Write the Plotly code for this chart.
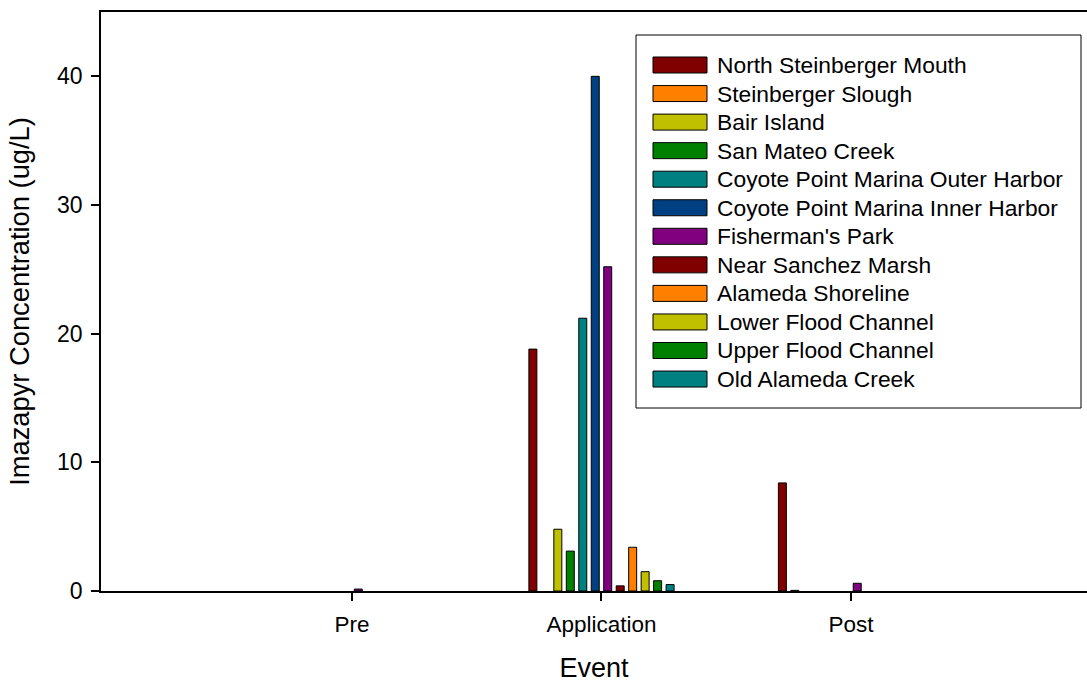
import plotly.graph_objects as go

events = ["Pre", "Application", "Post"]

sites = [
    "North Steinberger Mouth",
    "Steinberger Slough",
    "Bair Island",
    "San Mateo Creek",
    "Coyote Point Marina Outer Harbor",
    "Coyote Point Marina Inner Harbor",
    "Fisherman's Park",
    "Near Sanchez Marsh",
    "Alameda Shoreline",
    "Lower Flood Channel",
    "Upper Flood Channel",
    "Old Alameda Creek",
]

colors = [
    "#800000", "#FF8000", "#C0C000", "#008000", "#008080", "#004080",
    "#800080", "#800000", "#FF8000", "#C0C000", "#008000", "#008080",
]

# values per site: [Pre, Application, Post]
north_steinberger_mouth = [None, 18.8, 8.4]
steinberger_slough = [None, None, 0.05]
bair_island = [None, 4.8, None]
san_mateo_creek = [None, 3.1, None]
coyote_outer_harbor = [None, 21.2, None]
coyote_inner_harbor = [None, 40.0, None]
fishermans_park = [0.15, 25.2, 0.6]
near_sanchez_marsh = [None, 0.4, None]
alameda_shoreline = [None, 3.4, None]
lower_flood_channel = [None, 1.5, None]
upper_flood_channel = [None, 0.8, None]
old_alameda_creek = [None, 0.5, None]

series = [
    north_steinberger_mouth, steinberger_slough, bair_island, san_mateo_creek,
    coyote_outer_harbor, coyote_inner_harbor, fishermans_park, near_sanchez_marsh,
    alameda_shoreline, lower_flood_channel, upper_flood_channel, old_alameda_creek,
]

FONT = "Arial, Liberation Sans, sans-serif"
W, H = 1087, 683
ML, MR, MT, MB = 101, 0, 12, 92
PW, PH = W - ML - MR, H - MT - MB

fig = go.Figure()
for name, vals, col in zip(sites, series, colors):
    fig.add_trace(go.Bar(
        x=events, y=vals, name=name,
        marker=dict(color=col, line=dict(color="black", width=1)),
        showlegend=False,
    ))

# custom legend (box, swatches, labels) in paper coordinates
def px_x(p):
    return (p - ML) / PW

def px_y(p):
    return (H - MB - p) / PH

shapes = [dict(type="rect", xref="paper", yref="paper",
               x0=px_x(636), x1=px_x(1081), y0=px_y(408), y1=px_y(35),
               line=dict(color="black", width=1), fillcolor="white", layer="above")]
annotations = []
for i, (name, col) in enumerate(zip(sites, colors)):
    cy = 65 + i * 28.55
    shapes.append(dict(type="rect", xref="paper", yref="paper",
                       x0=px_x(653), x1=px_x(707), y0=px_y(cy + 8), y1=px_y(cy - 8),
                       line=dict(color="black", width=1), fillcolor=col, layer="above"))
    annotations.append(dict(xref="paper", yref="paper", x=px_x(715), y=px_y(cy),
                            text=name, showarrow=False, xanchor="left", yanchor="middle",
                            font=dict(family=FONT, size=22.8, color="black")))

fig.update_layout(
    width=W, height=H,
    margin=dict(l=ML, r=MR, t=MT, b=MB),
    paper_bgcolor="white", plot_bgcolor="white",
    barmode="group", bargap=0.4, bargroupgap=0.36,
    font=dict(family=FONT, color="black"),
    shapes=shapes, annotations=annotations,
    showlegend=False,
)
fig.update_xaxes(
    type="category", range=[-1.006, 2.946],
    showline=True, linecolor="black", linewidth=2, mirror=True,
    ticks="outside", ticklen=8, tickwidth=2, tickcolor="black",
    tickfont=dict(family=FONT, size=22.5), ticklabelstandoff=4,
    showgrid=False, zeroline=False,
    title=dict(text="Event", font=dict(family=FONT, size=27), standoff=23),
)
fig.update_yaxes(
    range=[0, 45], tickvals=[0, 10, 20, 30, 40],
    showline=True, linecolor="black", linewidth=1.5,
    ticks="outside", ticklen=8, tickwidth=1.5, tickcolor="black",
    tickfont=dict(family=FONT, size=23), ticklabelstandoff=4,
    showgrid=False, zeroline=False,
    title=dict(text="Imazapyr Concentration (ug/L)", font=dict(family=FONT, size=27.3), standoff=20),
)

fig.write_html("out.html", config={"displayModeBar": False},
               post_script="document.body.style.margin='0';")
